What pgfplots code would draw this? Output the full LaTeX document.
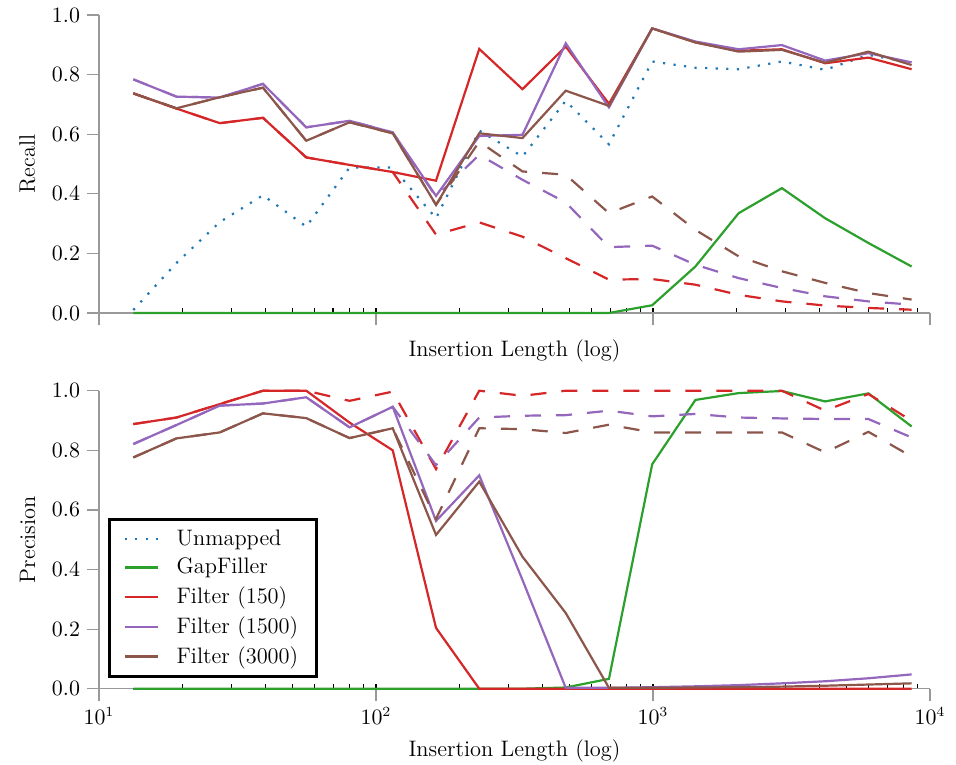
\documentclass[border=0pt]{standalone}
\usepackage{pgfplots}
\usepackage{pgfplotstable}
\pgfplotsset{compat=1.18}
\definecolor{cblue}{HTML}{1F77B4}
\definecolor{cgreen}{HTML}{2CA02C}
\definecolor{cred}{HTML}{D62728}
\definecolor{cpurple}{HTML}{9467BD}
\definecolor{cbrown}{HTML}{8C564B}

\pgfplotstableread{
x unm gap f150 f1500 f3000 d150 d1500 d3000
13.30 0.010 0 0.737 0.784 0.737 0.737 0.784 0.737
19.05 0.168 0 0.686 0.726 0.687 0.686 0.726 0.687
27.29 0.305 0 0.637 0.723 0.724 0.637 0.723 0.724
39.09 0.395 0 0.655 0.769 0.756 0.655 0.769 0.756
56.01 0.290 0 0.522 0.623 0.578 0.522 0.623 0.578
80.25 0.488 0 0.497 0.645 0.640 0.497 0.645 0.640
114.9 0.488 0 0.473 0.606 0.603 0.473 0.606 0.603
164.7 0.318 0 0.444 0.393 0.363 0.263 0.390 0.363
235.9 0.612 0 0.886 0.594 0.603 0.304 0.531 0.575
337.9 0.525 0 0.751 0.598 0.587 0.256 0.447 0.475
484.1 0.712 0 0.894 0.905 0.746 0.184 0.371 0.464
693.4 0.566 0 0.702 0.690 0.695 0.112 0.221 0.335
993.1 0.844 0.026 0.955 0.955 0.955 0.114 0.226 0.391
1422.5 0.823 0.156 0.908 0.911 0.908 0.095 0.162 0.279
2038 0.818 0.335 0.880 0.885 0.877 0.061 0.117 0.190
2919 0.844 0.419 0.885 0.899 0.883 0.039 0.084 0.140
4182 0.816 0.318 0.838 0.847 0.840 0.025 0.056 0.101
5991 0.866 0.235 0.857 0.872 0.877 0.017 0.039 0.067
8582 0.840 0.156 0.818 0.841 0.832 0.011 0.028 0.045
}\recall

\pgfplotstableread{
x unm gap f150 f1500 f3000 d150 d1500 d3000
13.30 0 0 0.888 0.821 0.776 0.888 0.821 0.776
19.05 0 0 0.910 0.885 0.840 0.910 0.885 0.840
27.29 0 0 0.955 0.950 0.860 0.955 0.950 0.860
39.09 0 0 1.000 0.957 0.924 1.000 0.957 0.924
56.01 0 0 1.000 0.978 0.908 1.000 0.978 0.908
80.25 0 0 0.893 0.877 0.841 0.966 0.877 0.841
114.9 0 0 0.800 0.946 0.874 0.997 0.946 0.874
164.7 0 0 0.204 0.563 0.516 0.737 0.750 0.570
235.9 0 0 0.000 0.716 0.695 1.000 0.910 0.874
337.9 0 0 0.000 0.365 0.443 0.983 0.916 0.871
484.1 0 0.004 0.000 0.003 0.254 1.000 0.918 0.858
693.4 0 0.033 0.000 0.003 0.003 1.000 0.933 0.886
993.1 0 0.753 0.000 0.005 0.003 1.000 0.914 0.860
1422.5 0 0.969 0.000 0.008 0.004 1.000 0.922 0.860
2038 0 0.992 0.000 0.012 0.005 1.000 0.910 0.860
2919 0 0.999 0.000 0.018 0.007 1.000 0.907 0.860
4182 0 0.964 0.000 0.025 0.010 0.933 0.905 0.793
5991 0 0.991 0.000 0.035 0.014 0.989 0.905 0.862
8582 0 0.880 0.000 0.048 0.018 0.899 0.843 0.779
}\precision

\pgfplotsset{
  unm/.style={cblue, line width=1.1pt, dash pattern=on 1.1pt off 4.2pt},
  sol/.style={line width=1.1pt},
  dsh/.style={line width=1.1pt, dash pattern=on 8pt off 7.5pt},
}

\begin{document}
\begin{tikzpicture}
\path[use as bounding box] (-49.5pt,-225.85pt) rectangle (428.5pt,156.5pt);
\begin{axis}[
    scale only axis, width=415.5pt, height=149pt,
    xmode=log, xmin=10, xmax=10000, ymin=0, ymax=1,
    xtick={10,100,1000,10000},
    ytick={0,0.2,0.4,0.6,0.8,1.0},
    yticklabel style={/pgf/number format/fixed, /pgf/number format/fixed zerofill, /pgf/number format/precision=1, font=\fontsize{11}{13}\selectfont},
    xticklabel style={font=\fontsize{10.5}{12.5}\selectfont},
    axis lines*=left,
    axis line style={gray!80, line width=0.6pt},
    tick align=outside,
    major tick length=6pt,
    minor tick length=2.5pt,
    major tick style={gray!80, line width=0.6pt},
    minor tick style={black, line width=0.6pt, yshift=2.5pt},
    xlabel style={font=\fontsize{11.2}{13}\selectfont},
    ylabel style={font=\fontsize{11.2}{13}\selectfont, at={(axis description cs:-0.068,0.5)}, anchor=south},
    clip=false,
    xticklabels={},
    xlabel={Insertion Length (log)}, ylabel={Recall},
    xlabel style={at={(axis description cs:0.5,0)}, anchor=north, yshift=-10pt}]
\addplot[unm] table[x=x,y=unm]{\recall};
\addplot[dsh, cred] table[x=x,y=d150]{\recall};
\addplot[dsh, cpurple] table[x=x,y=d1500]{\recall};
\addplot[dsh, cbrown] table[x=x,y=d3000]{\recall};
\addplot[sol, cgreen] table[x=x,y=gap]{\recall};
\addplot[sol, cred] table[x=x,y=f150]{\recall};
\addplot[sol, cpurple] table[x=x,y=f1500]{\recall};
\addplot[sol, cbrown] table[x=x,y=f3000]{\recall};
\end{axis}
\begin{axis}[yshift=-187.85pt,
    scale only axis, width=415.5pt, height=149pt,
    xmode=log, xmin=10, xmax=10000, ymin=0, ymax=1,
    xtick={10,100,1000,10000},
    ytick={0,0.2,0.4,0.6,0.8,1.0},
    yticklabel style={/pgf/number format/fixed, /pgf/number format/fixed zerofill, /pgf/number format/precision=1, font=\fontsize{11}{13}\selectfont},
    xticklabel style={font=\fontsize{10.5}{12.5}\selectfont},
    axis lines*=left,
    axis line style={gray!80, line width=0.6pt},
    tick align=outside,
    major tick length=6pt,
    minor tick length=2.5pt,
    major tick style={gray!80, line width=0.6pt},
    minor tick style={black, line width=0.6pt, yshift=2.5pt},
    xlabel style={font=\fontsize{11.2}{13}\selectfont},
    ylabel style={font=\fontsize{11.2}{13}\selectfont, at={(axis description cs:-0.068,0.5)}, anchor=south},
    clip=false,
    xlabel={Insertion Length (log)}, ylabel={Precision},
    xlabel style={at={(axis description cs:0.5,0)}, anchor=north, yshift=-22pt},
    legend image code/.code={\draw[#1, line width=1.1pt] (0pt,0pt) -- (16.5pt,0pt);},
    legend style={at={(0.011,0.037)}, anchor=south west, draw=black, line width=1.3pt,
      font=\fontsize{11.2}{13}\selectfont, row sep=1.0pt, column sep=7pt,
      inner xsep=7pt, inner ysep=3pt},
    legend cell align=left]
\addplot[unm] table[x=x,y=unm]{\precision};
\addlegendentry{Unmapped}
\addplot[sol, cgreen] table[x=x,y=gap]{\precision};
\addlegendentry{GapFiller}
\addplot[sol, cred] table[x=x,y=f150]{\precision};
\addlegendentry{Filter (150)}
\addplot[sol, cpurple] table[x=x,y=f1500]{\precision};
\addlegendentry{Filter (1500)}
\addplot[sol, cbrown] table[x=x,y=f3000]{\precision};
\addlegendentry{Filter (3000)}
\addplot[dsh, cred, forget plot] table[x=x,y=d150]{\precision};
\addplot[dsh, cpurple, forget plot] table[x=x,y=d1500]{\precision};
\addplot[dsh, cbrown, forget plot] table[x=x,y=d3000]{\precision};
\end{axis}
\end{tikzpicture}
\end{document}
